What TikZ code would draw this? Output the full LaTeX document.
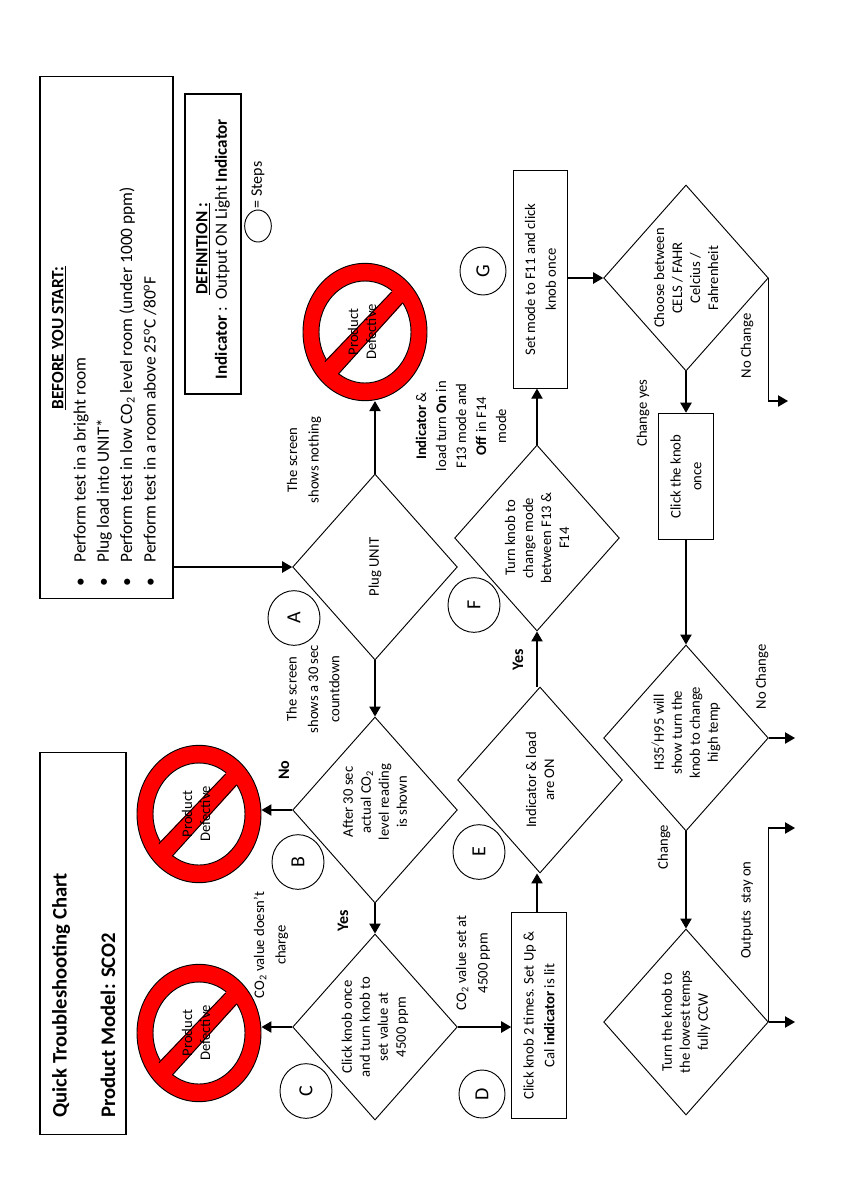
\documentclass[tikz,border=0pt]{standalone}
\usepackage{fontspec}
\setmainfont{Carlito}
\usetikzlibrary{shapes.geometric, arrows.meta}
\newcommand{\labelfont}{\fontsize{11}{13.5}\selectfont}
\tikzstyle{decision} = [diamond, rotate=90, aspect=1.13, minimum width=139.5pt, minimum height=123.5pt, inner sep=-10pt, align=center, draw=black, font=\labelfont]
\tikzstyle{process} = [rectangle, rotate=90, align=center, draw=black, font=\fontsize{11}{15.5}\selectfont]
\tikzstyle{frame} = [rectangle, rotate=90, draw=black, line width=0.9pt]
\tikzstyle{stepmark} = [ellipse, rotate=90, minimum width=41pt, minimum height=39pt, inner sep=0pt, draw=black, font=\fontsize{15}{18}\selectfont]
\tikzstyle{note} = [rotate=90, align=center, font=\labelfont]
\tikzstyle{nosign} = [ellipse, minimum width=93pt, minimum height=103pt, inner sep=0pt, draw=black, fill=red, path picture={
	\begin{scope}[shift={(path picture bounding box.center)}]
		\draw[fill=white] (0,0) ellipse [x radius=46, y radius=51];
		\fill[red] (-44,33) -- (30,-44) -- (42,-33) -- (-30,46) -- cycle;
		\draw (-40,29.6) -- (26.7,-40);
		\draw (-26.7,42.1) -- (37.7,-29.3);
	\end{scope}}]
\tikzstyle{arrow} = [line width=0.9pt, -{Triangle[length=7.5pt,width=8.5pt]}]

\begin{document}
\begin{tikzpicture}[x=0.75pt, y=-0.75pt, line width=0.7pt]
	\useasboundingbox (0,0) rectangle (840,1190);

	% header boxes
	\node (startBox) [frame, minimum width=392pt, minimum height=99.75pt] at (106.5,337.5) {};
	\node (startHead) [rotate=90, font=\fontsize{13}{15}\selectfont\bfseries] at (59,338) {\underline{BEFORE YOU START:}};
	\node (startList) [rotate=90, anchor=north west, inner sep=0pt, align=left, font=\fontsize{13}{17.5}\selectfont] at (73,587) {%
		\makebox[18pt][l]{\textbullet}Perform test in a bright room\\
		\makebox[18pt][l]{\textbullet}Plug load into UNIT*\\
		\makebox[18pt][l]{\textbullet}Perform test in low CO\textsubscript{2} level room (under 1000 ppm)\\
		\makebox[18pt][l]{\textbullet}Perform test in a room above 25\textsuperscript{o}C /80\textsuperscript{o}F};
	\node (defBox) [frame, minimum width=225pt, minimum height=42pt] at (213,244) {};
	\node (defText) [rotate=90, align=center, font=\fontsize{12.8}{14.5}\selectfont] at (213,249) {\textbf{\underline{DEFINITION :}}\\\textbf{Indicator} :\ \ Output ON Light \textbf{Indicator}};
	\node (titleBox) [frame, minimum width=286pt, minimum height=64.5pt] at (83,943.5) {};
	\node (titleA) [rotate=90, anchor=west, inner sep=0pt, font=\fontsize{15.5}{18}\selectfont\bfseries] at (61,1118) {Quick Troubleshooting Chart};
	\node (titleB) [rotate=90, anchor=west, inner sep=0pt, font=\fontsize{15.5}{18}\selectfont\bfseries] at (108,1118) {Product Model: SCO2};
	\node (stepKey) [ellipse, minimum width=20pt, minimum height=24pt, inner sep=0pt, draw=black] at (258,226) {};
	\node (stepWord) [note, font=\fontsize{12}{14}\selectfont] at (258,185) {= Steps};

	% first column
	\node (diaA) [decision] at (375,567) {Plug UNIT};
	\node (diaB) [decision] at (375,810) {\hspace*{12pt}After 30 sec\\\hspace*{12pt}actual CO\textsubscript{2}\\\hspace*{12pt}level reading\\\hspace*{12pt}is shown};
	\node (diaC) [decision] at (375,1027) {Click knob once\\and turn knob to\\set value at\\4500 ppm};

	\node (nopeA) [nosign] at (365,332) {};
	\node (nopeB) [nosign] at (199,814) {};
	\node (nopeC) [nosign] at (199,1033) {};
	\node (nopeAtxt) [note] at (362,332) {Product\\Defective};
	\node (nopeBtxt) [note] at (196,814) {Product\\Defective};
	\node (nopeCtxt) [note] at (196,1033) {Product\\Defective};

	% second column
	\node (boxD) [process, minimum width=155pt, minimum height=41pt, inner sep=1pt] at (539,1015.5) {Click knob 2 times. Set Up \&\\Cal \textbf{indicator} is lit};
	\node (diaE) [decision] at (540,780) {Indicator \& load\\are ON};
	\node (diaF) [decision] at (537,538) {Turn knob to\\change mode\\between F13 \&\\F14};
	\node (boxG) [process, minimum width=163pt, minimum height=40pt, inner sep=1pt] at (540.5,279.5) {Set mode to F11 and click\\knob once};

	% third column
	\node (diaCh) [decision] at (686,278) {Choose between\\CELS / FAHR\\Celcius /\\Fahrenheit};
	\node (boxClick) [process, minimum width=95pt, minimum height=41pt, inner sep=1pt] at (686,476.5) {Click the knob\\once};
	\node (diaH) [decision] at (686,738) {\hspace*{8pt}H35\textsuperscript{/}H95 will\\\hspace*{8pt}show turn the\\\hspace*{8pt}knob to change\\\hspace*{8pt}high temp};
	\node (diaL) [decision] at (686,1022) {Turn the knob to\\the lowest temps\\fully CCW};

	% steps
	\node (stepA) [stepmark] at (294,618) {A};
	\node (stepB) [stepmark] at (298,862) {B};
	\node (stepC) [stepmark] at (306,1091) {C};
	\node (stepD) [stepmark, minimum width=36pt, minimum height=34.5pt] at (482,1094) {D};
	\node (stepE) [stepmark] at (479,852) {E};
	\node (stepF) [stepmark] at (474,605) {F};
	\node (stepG) [stepmark, minimum width=36pt, minimum height=34.5pt] at (483,271) {G};

	% labels
	\node (lblNothing) [note, font=\fontsize{11}{16}\selectfont] at (304,460) {The screen\\shows nothing};
	\node (lblCount) [note, font=\fontsize{11}{16}\selectfont] at (313,689) {The screen\\shows a 30 sec\\countdown};
	\node (lblNo) [note, font=\fontsize{12}{14}\selectfont\bfseries] at (284,770) {No};
	\node (lblYesC) [note, font=\fontsize{12}{14}\selectfont\bfseries] at (343,921) {Yes};
	\node (lblCharge) [note, font=\fontsize{11}{16}\selectfont] at (271,945) {CO\textsubscript{2} value doesn't\\charge};
	\node (lblSet) [note, font=\fontsize{11}{16}\selectfont] at (473,963) {CO\textsubscript{2} value set at\\4500 ppm};
	\node (lblYesF) [note, font=\fontsize{12}{14}\selectfont\bfseries] at (518,660) {Yes};
	\node (lblMode) [note, font=\fontsize{11}{15}\selectfont] at (461,426) {\textbf{Indicator} \&\\load turn \textbf{On} in\\F13 mode and\\\textbf{Off} in F14\\mode};
	\node (lblChange) [note] at (643,413) {Change yes};
	\node (lblNoA) [note] at (747,346) {No Change};
	\node (lblNoB) [note] at (762,677) {No Change};
	\node (lblChangeB) [note] at (664,847) {Change};
	\node (lblStay) [note] at (747,910) {Outputs\ \ stay on};

	% free ends
	\coordinate (exitCh) at (788,401);
	\coordinate (exitH) at (795,738);
	\coordinate (exitL) at (795,1022);
	\coordinate (exitStay) at (795,828);

	\draw [arrow] (startBox.south |- diaA.north) -- (diaA.north);
	\draw [arrow] (diaA.east) -- (diaA.east |- nopeA.south);
	\draw [arrow] (diaA.west) -- (diaB.east);
	\draw [arrow] (diaB.north) -- (diaB.north -| nopeB.east);
	\draw [arrow] (diaB.west) -- (diaC.east);
	\draw [arrow] (diaC.north) -- (diaC.north -| nopeC.east);
	\draw [arrow] (diaC.south) -- (diaC.south -| boxD.north);
	\draw [arrow] (boxD.east -| diaF.center) -- (diaE.west -| diaF.center);
	\draw [arrow] (diaE.east -| diaF.center) -- (diaF.west);
	\draw [arrow] (diaF.east) -- (diaF.east |- boxG.west);
	\draw [arrow] (boxG.south |- diaCh.north) -- (diaCh.north);
	\draw [arrow] (diaCh.west) -- (diaCh.west |- boxClick.east);
	\draw [arrow] (boxClick.west) -- (diaH.east);
	\draw [arrow] (diaH.west) -- (diaL.east);
	\draw [arrow] (diaCh.south) |- (exitCh);
	\draw [arrow] (diaH.south) -- (exitH);
	\draw [arrow] (diaL.south) -- (exitL);
	\draw [arrow] (diaL.south) |- (exitStay);
\end{tikzpicture}
\end{document}
